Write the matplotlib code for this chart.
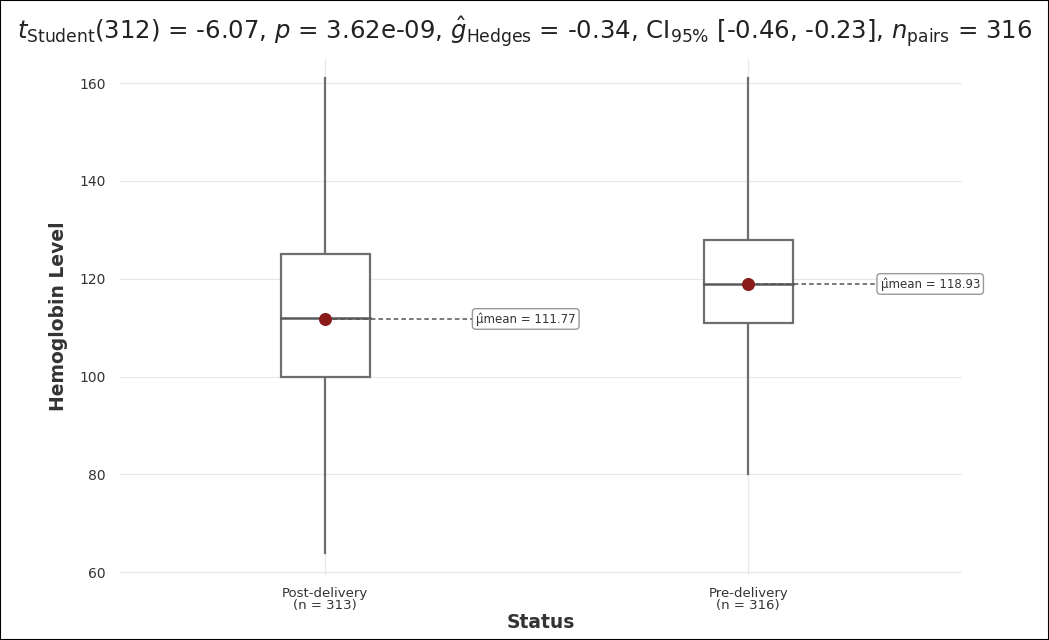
import matplotlib
matplotlib.use("Agg")
import matplotlib.pyplot as plt
from matplotlib.patches import Rectangle

# data
groups = ["Post-delivery", "Pre-delivery"]
counts = [313, 316]
q1 = [100, 111]
medians = [112, 119]
q3 = [125, 128]
whisk_lo = [64, 80]
whisk_hi = [161, 161]
means = [111.77, 118.93]
label_x = [0.474, 1.43]

fig = plt.figure(figsize=(10.49, 6.4), dpi=100)
ax = fig.add_axes([0.114, 0.1023, 0.803, 0.806])

box_w = 0.21
for i in range(len(groups)):
    ax.plot([i, i], [whisk_lo[i], q1[i]], color="#6e6e6e", lw=1.6, zorder=1)
    ax.plot([i, i], [q3[i], whisk_hi[i]], color="#6e6e6e", lw=1.6, zorder=1)
    ax.add_patch(Rectangle((i - box_w / 2, q1[i]), box_w, q3[i] - q1[i],
                           facecolor="white", edgecolor="#6e6e6e", lw=1.6, zorder=2))
    ax.plot([i - box_w / 2, i + box_w / 2], [medians[i], medians[i]], color="#5a5a5a", lw=1.8, zorder=3)
    ax.plot([i, label_x[i]], [means[i], means[i]], color="#555555", lw=1.1, ls=(0, (3, 2)), zorder=3)
    ax.scatter([i], [means[i]], s=70, color="#8b1a1a", zorder=4)
    ax.text(label_x[i], means[i], "µ̂mean = %.2f" % means[i], fontsize=8.5, color="#333333",
            ha="center", va="center", zorder=5,
            bbox=dict(boxstyle="round,pad=0.3", fc="white", ec="#999999", lw=1))

ax.set_xlim(-0.486, 1.505)
ax.set_ylim(59.5, 165)
ax.set_xticks(range(len(groups)))
ax.set_xticklabels(["%s\n(n = %d)" % (g, n) for g, n in zip(groups, counts)],
                   fontsize=9.5, color="#333333", linespacing=0.9)
ax.set_yticks([60, 80, 100, 120, 140, 160])
ax.tick_params(axis="y", labelsize=10, colors="#333333", length=0, pad=10)
ax.tick_params(axis="x", length=0, pad=9)
ax.grid(True, color="#e8e8e8", lw=0.9)
ax.set_axisbelow(True)
for s in ax.spines.values():
    s.set_visible(False)

ax.set_ylabel("Hemoglobin Level", fontsize=13.5, fontweight="bold", color="#333333", labelpad=8)
ax.set_xlabel("Status", fontsize=13.5, fontweight="bold", color="#333333", labelpad=1)

fig.text(0.5, 0.950,
         r"$t_{\mathrm{Student}}$(312) = -6.07, $p$ = 3.62e-09, $\hat{g}_{\mathrm{Hedges}}$ = -0.34, "
         r"CI$_{95\%}$ [-0.46, -0.23], $n_{\mathrm{pairs}}$ = 316",
         ha="center", va="center", fontsize=17.6, color="#222222")

fig.patches.append(Rectangle((0, 0), 1, 1, transform=fig.transFigure, fill=False,
                             ec="black", lw=1.5, zorder=10))

fig.savefig("out.png", dpi=100)
